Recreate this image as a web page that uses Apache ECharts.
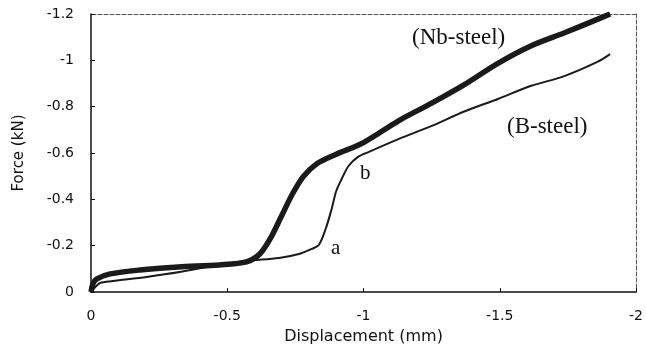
<!DOCTYPE html>
<html>
<head>
<meta charset="UTF-8">
<title>Force - Displacement</title>
<script src="https://cdn.jsdelivr.net/npm/echarts@6/dist/echarts.min.js"></script>
<style>
  body { margin: 0; background: #fff; }
  #chart { width: 646px; height: 353px; }
</style>
</head>
<body>
<div id="chart"></div>
<script>
// displacement (mm), force (kN)
var nbSteel = [
  [0, 0], [-0.007, -0.035], [-0.02, -0.056], [-0.07, -0.078], [-0.18, -0.095],
  [-0.32, -0.108], [-0.47, -0.117], [-0.57, -0.13], [-0.62, -0.165], [-0.66, -0.235],
  [-0.70, -0.33], [-0.74, -0.425], [-0.78, -0.50], [-0.83, -0.555], [-0.90, -0.595],
  [-1.0, -0.645], [-1.13, -0.74], [-1.25, -0.815],
  [-1.37, -0.895], [-1.49, -0.985], [-1.61, -1.06], [-1.74, -1.12], [-1.86, -1.178],
  [-1.905, -1.2]
];
var bSteel = [
  [0, 0], [-0.015, -0.02], [-0.033, -0.039], [-0.08, -0.047], [-0.204, -0.065],
  [-0.325, -0.086], [-0.445, -0.112], [-0.57, -0.134], [-0.69, -0.147], [-0.763, -0.164],
  [-0.81, -0.186], [-0.836, -0.203], [-0.861, -0.272], [-0.883, -0.358], [-0.90, -0.436],
  [-0.92, -0.488], [-0.945, -0.544], [-0.98, -0.583], [-1.018, -0.604], [-1.128, -0.66],
  [-1.248, -0.716], [-1.372, -0.78], [-1.493, -0.833], [-1.613, -0.889], [-1.737, -0.932],
  [-1.858, -0.993], [-1.905, -1.027]
];
var xTicks = [0, -0.5, -1, -1.5, -2];
var yTicks = [0, -0.2, -0.4, -0.6, -0.8, -1, -1.2];

var chart = echarts.init(document.getElementById('chart'));
var sans = '"DejaVu Sans", Arial, sans-serif';
var serifFont = '23px "Liberation Serif", "DejaVu Serif", serif';
var labelFont = { color: '#111', fontFamily: sans, fontSize: 14 };
var option = {
  animation: false,
  grid: { left: 91, right: 8, top: 14, bottom: 61 },
  xAxis: [{
    type: 'value', min: -2, max: 0, interval: 0.5, inverse: true,
    name: 'Displacement (mm)', nameLocation: 'middle', nameGap: 37,
    nameTextStyle: { color: '#111', fontFamily: sans, fontSize: 16 },
    axisLine: { lineStyle: { color: '#111', width: 1.5 } },
    axisTick: { inside: true, length: 4, lineStyle: { color: '#111' } },
    axisLabel: Object.assign({ margin: 17, formatter: function (v) { return xTicks.indexOf(v) >= 0 ? String(v) : ''; } }, labelFont),
    splitLine: { show: false }
  }, {
    type: 'value', min: -2, max: 0, inverse: true, position: 'top',
    axisLine: { onZero: false, lineStyle: { color: '#555', width: 1, type: 'dashed' } },
    axisTick: { show: false }, axisLabel: { show: false }, splitLine: { show: false }
  }],
  yAxis: [{
    type: 'value', min: -1.2, max: 0, interval: 0.2, inverse: true,
    name: 'Force (kN)', nameLocation: 'middle', nameGap: 64, nameRotate: 90,
    nameTextStyle: { color: '#111', fontFamily: sans, fontSize: 15 },
    axisLine: { show: true, lineStyle: { color: '#111', width: 1.5 } },
    axisTick: { show: true, inside: true, length: 4, lineStyle: { color: '#111' } },
    axisLabel: Object.assign({ margin: 17, formatter: function (v) {
      var r = Math.round(v * 10) / 10;
      return yTicks.indexOf(r) >= 0 ? String(r) : '';
    } }, labelFont),
    splitLine: { show: false }
  }, {
    type: 'value', min: -1.2, max: 0, inverse: true, position: 'right',
    axisLine: { show: true, onZero: false, lineStyle: { color: '#555', width: 1, type: 'dashed' } },
    axisTick: { show: false }, axisLabel: { show: false }, splitLine: { show: false }
  }],
  series: [{
    name: 'Nb-steel', type: 'line', data: nbSteel, smooth: 0.3,
    showSymbol: false, lineStyle: { color: '#1a1a1a', width: 5.5 }
  }, {
    name: 'B-steel', type: 'line', data: bSteel, smooth: 0.3,
    showSymbol: false, lineStyle: { color: '#1a1a1a', width: 2 }
  }],
  graphic: [
    { type: 'text', left: 412, top: 26, style: { text: '(Nb-steel)', fill: '#111', font: serifFont } },
    { type: 'text', left: 507, top: 115, style: { text: '(B-steel)', fill: '#111', font: serifFont } },
    { type: 'text', left: 331, top: 238, style: { text: 'a', fill: '#111', font: '21px "Liberation Serif", "DejaVu Serif", serif' } },
    { type: 'text', left: 360, top: 163, style: { text: 'b', fill: '#111', font: '21px "Liberation Serif", "DejaVu Serif", serif' } }
  ]
};
chart.setOption(option);
</script>
</body>
</html>
